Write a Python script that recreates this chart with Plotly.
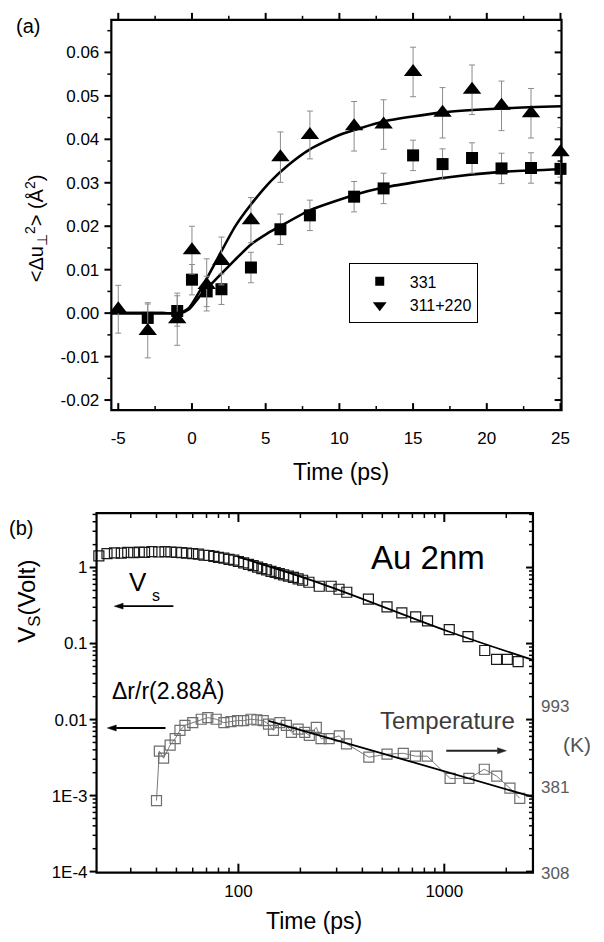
import math
import plotly.graph_objects as go

# ---------------- Panel (a) data ----------------
t331 = [-3, -1, 0, 1, 2, 4, 6, 8, 11, 13, 15, 17, 19, 21, 23, 25]
u331 = [-0.0011, 0.0005, 0.0077, 0.0050, 0.0055, 0.0105, 0.0193, 0.0225, 0.0268,
        0.0287, 0.0363, 0.0343, 0.0357, 0.0333, 0.0334, 0.0332]
e331 = [0.0035] * len(t331)

t311 = [-5, -3, -1, 0, 1, 2, 4, 6, 8, 11, 13, 15, 17, 19, 21, 23, 25]
u311 = [0.0009, -0.0041, -0.0014, 0.0145, 0.0065, 0.0120, 0.0214, 0.0359, 0.0410,
        0.0430, 0.0434, 0.0555, 0.0461, 0.0514, 0.0477, 0.0460, 0.0370]
e311 = [0.0055, 0.0062, 0.0060, 0.0055, 0.0060, 0.0055, 0.0052, 0.0058, 0.0055,
        0.0057, 0.0057, 0.0057, 0.0058, 0.0057, 0.0057, 0.0057, 0.0057]

fit331_t = [-5.47, -2, -0.8, -0.2, 0.7, 1.8, 2.9, 4.0, 5.1, 6, 8, 11, 13, 17, 21, 25.07]
fit331_u = [0, 0, 0, 0.0009, 0.0046, 0.0084, 0.0122, 0.0158, 0.0183, 0.0200, 0.0237,
            0.0272, 0.0289, 0.0311, 0.0325, 0.0331]
fit311_t = [-5.47, -2, -0.8, -0.2, 0.7, 1.8, 2.9, 4.0, 5.35, 6.5, 8, 10, 13, 17, 21, 25.07]
fit311_u = [0, 0, 0, 0.0012, 0.0061, 0.0130, 0.0198, 0.0250, 0.0304, 0.0340, 0.0377,
            0.0410, 0.0441, 0.0462, 0.0471, 0.0476]

a_xticks = [-5, 0, 5, 10, 15, 20, 25]
a_xminor = [-2.5, 2.5, 7.5, 12.5, 17.5, 22.5]
a_yticks = [-0.02, -0.01, 0.0, 0.01, 0.02, 0.03, 0.04, 0.05, 0.06]
a_yminor = [-0.015, -0.005, 0.005, 0.015, 0.025, 0.035, 0.045, 0.055, 0.065]

# ---------------- Panel (b) data ----------------
vs_t = [21, 23, 25, 27, 29, 31, 33, 35, 38, 41, 44, 47, 50, 53, 56, 60, 64, 68, 72, 76,
        80, 85, 90, 95, 100, 106, 112, 118, 124, 130, 137, 144, 151, 158, 166, 175, 185,
        195, 205, 220, 247, 282, 308, 336, 428, 527, 622, 726, 829, 1057, 1303, 1572,
        1794, 2024, 2284]
vs_v = [1.42, 1.52, 1.56, 1.55, 1.58, 1.57, 1.60, 1.58, 1.62, 1.60, 1.62, 1.60, 1.58,
        1.57, 1.55, 1.52, 1.50, 1.45, 1.44, 1.40, 1.36, 1.33, 1.28, 1.25, 1.20, 1.15,
        1.10, 1.06, 1.01, 0.97, 0.93, 0.89, 0.86, 0.83, 0.80, 0.77, 0.74, 0.71, 0.68,
        0.64, 0.567, 0.567, 0.518, 0.473, 0.384, 0.303, 0.253, 0.224, 0.199, 0.152,
        0.123, 0.081, 0.062, 0.062, 0.058]
vs_fit_t = [99, 250, 1057, 2690]
vs_fit_v = [1.39, 0.62, 0.143, 0.061]

dr_t = [40, 41.3, 43.3, 46.6, 49.3, 52, 55, 60, 66, 71, 78, 85, 92, 99, 106, 115, 123,
        132, 140, 148, 159, 171, 181, 195, 210, 221, 239, 252, 276, 309, 335, 430, 527,
        632, 724, 826, 1067, 1316, 1564, 1798, 2083, 2326]
dr_v = [8.6e-4, 3.84e-3, 3.1e-3, 4.6e-3, 5.6e-3, 7.2e-3, 8.4e-3, 9.1e-3, 1.01e-2,
        1.06e-2, 1.01e-2, 9.1e-3, 9.4e-3, 9.7e-3, 9.7e-3, 1.01e-2, 9.9e-3, 9.7e-3,
        8.7e-3, 7.2e-3, 9.1e-3, 8.4e-3, 6.8e-3, 7.5e-3, 6.8e-3, 6.2e-3, 7.9e-3, 5.6e-3,
        5.6e-3, 6.1e-3, 4.8e-3, 3.2e-3, 3.5e-3, 3.6e-3, 3.3e-3, 3.3e-3, 1.68e-3,
        1.68e-3, 2.22e-3, 1.8e-3, 1.25e-3, 9.2e-4]
dr_fit_t = [140, 630, 2690]
dr_fit_v = [9.6e-3, 3.0e-3, 9.6e-4]

b_yticks = [1, 0.1, 0.01, 0.001, 0.0001]
b_yticktext = ["1", "0.1", "0.01", "1E-3", "1E-4"]
b_xticks = [100, 1000]
temp_labels = ["993", "381", "308"]

FONT = "Liberation Sans, Arial, sans-serif"
W, H = 604, 942


def px(x):
    return x / W


def py(y):
    return 1 - y / H


# plot-area geometry (pixels)
A_L, A_R, A_T, A_B = 112, 569, 20, 414
B_L, B_R, B_T, B_B = 97, 540, 518, 881

xa_dom = [px(A_L), px(A_R)]
ya_dom = [py(A_B), py(A_T)]
xa_range = [-5.47, 25.07]
ya_range = [-0.0223, 0.0675]

xb_dom = [px(B_L), px(B_R)]
yb_dom = [py(B_B), py(B_T)]
xb_range = [1.311, 3.4306]
yb_range = [-4.013, 0.7166]

b_xminor = [m * 10 ** e for e in (1, 2, 3) for m in range(2, 10) if 20 < m * 10 ** e < 2690]
b_yminor = [m * 10.0 ** e for e in (-4, -3, -2, -1, 0) for m in range(2, 10) if m * 10.0 ** e < 5.2]

fig = go.Figure()

# ---- panel (a) traces ----
for ft, fu in ((fit331_t, fit331_u), (fit311_t, fit311_u)):
    fig.add_trace(go.Scatter(x=ft, y=fu, mode="lines",
                             line=dict(color="black", width=2.6, shape="spline", smoothing=0.5),
                             xaxis="x", yaxis="y", showlegend=False, hoverinfo="skip", cliponaxis=False))
fig.add_trace(go.Scatter(x=t331, y=u331, mode="markers", xaxis="x", yaxis="y", cliponaxis=False,
                         marker=dict(symbol="square", size=12, color="black"),
                         error_y=dict(type="data", array=e331, color="#8c8c8c", thickness=1, width=3),
                         showlegend=False))
fig.add_trace(go.Scatter(x=t311, y=u311, mode="markers", xaxis="x", yaxis="y", cliponaxis=False,
                         marker=dict(symbol="triangle-up", size=16, color="black"),
                         error_y=dict(type="data", array=e311, color="#8c8c8c", thickness=1, width=3),
                         showlegend=False))
# legend entries
fig.add_trace(go.Scatter(x=[None], y=[None], mode="markers", name="331", xaxis="x", yaxis="y",
                         marker=dict(symbol="square", size=9, color="black")))
fig.add_trace(go.Scatter(x=[None], y=[None], mode="markers", name="311+220", xaxis="x", yaxis="y",
                         marker=dict(symbol="triangle-down", size=12, color="black")))

# ---- panel (b) traces ----
fig.add_trace(go.Scatter(x=vs_t, y=vs_v, mode="markers", xaxis="x2", yaxis="y2", cliponaxis=False,
                         marker=dict(symbol="square-open", size=10, color="#1a1a1a", line=dict(width=1.2)),
                         showlegend=False))
fig.add_trace(go.Scatter(x=dr_t, y=dr_v, mode="lines+markers", xaxis="x2", yaxis="y2", cliponaxis=False,
                         line=dict(color="#7a7a7a", width=1),
                         marker=dict(symbol="square-open", size=10, color="#6e6e6e", line=dict(width=1.2)),
                         showlegend=False))
for ft, fv in ((vs_fit_t, vs_fit_v), (dr_fit_t, dr_fit_v)):
    fig.add_trace(go.Scatter(x=ft, y=fv, mode="lines", xaxis="x2", yaxis="y2",
                             line=dict(color="black", width=1.8, shape="spline"),
                             showlegend=False, hoverinfo="skip"))

axis_common = dict(showline=False, showgrid=False, zeroline=False, ticks="",
                   tickfont=dict(family=FONT, size=17, color="black"))

fig.update_layout(
    width=W, height=H, margin=dict(l=0, r=0, t=0, b=0),
    paper_bgcolor="white", plot_bgcolor="white",
    font=dict(family=FONT, color="black"),
    xaxis=dict(domain=xa_dom, anchor="y", range=xa_range, tickmode="array", tickvals=a_xticks,
               ticktext=[str(v) for v in a_xticks], ticklabelstandoff=16, **axis_common),
    yaxis=dict(domain=ya_dom, anchor="x", range=ya_range, tickmode="array", tickvals=a_yticks,
               ticktext=[f"{v:.2f}" for v in a_yticks], ticklabelstandoff=11, **axis_common),
    xaxis2=dict(domain=xb_dom, anchor="y2", type="log", range=xb_range, tickmode="array", tickvals=b_xticks,
                ticktext=[str(v) for v in b_xticks], ticklabelstandoff=6, **axis_common),
    yaxis2=dict(domain=yb_dom, anchor="x2", type="log", range=yb_range, tickmode="array", tickvals=b_yticks,
                ticktext=b_yticktext, ticklabelstandoff=8, **axis_common),
    legend=dict(x=px(353), y=py(266), xanchor="left", yanchor="top", bgcolor="white",
                bordercolor="black", borderwidth=1, itemwidth=50,
                font=dict(family=FONT, size=16, color="black"), tracegroupgap=0),
)

ann = []
shapes = []


def frac(v, rng, log=False):
    val = math.log10(v) if log else v
    return (val - rng[0]) / (rng[1] - rng[0])


def xticks(xref, yref, vals, rng, log, h_px, length, width, side, direction):
    base = 0 if side == "bottom" else 1
    for v in vals:
        f = frac(v, rng, log)
        shapes.append(dict(type="line", xref=f"{xref} domain", yref=f"{yref} domain", x0=f, x1=f,
                           y0=base, y1=base + direction * length / h_px,
                           line=dict(color="black", width=width), layer="above"))


def yticks(xref, yref, vals, rng, log, w_px, length, width, side, direction):
    base = 0 if side == "left" else 1
    for v in vals:
        f = frac(v, rng, log)
        shapes.append(dict(type="line", xref=f"{xref} domain", yref=f"{yref} domain", y0=f, y1=f,
                           x0=base, x1=base + direction * length / w_px,
                           line=dict(color="black", width=width), layer="above"))


aw, ah = A_R - A_L, A_B - A_T
bw, bh = B_R - B_L, B_B - B_T

# panel (a): bottom ticks point in (up), top ticks point out (up), left out, right in
xticks("x", "y", a_xticks, xa_range, False, ah, 7, 2, "bottom", +1)
xticks("x", "y", a_xminor, xa_range, False, ah, 4, 1.5, "bottom", +1)
xticks("x", "y", a_xticks, xa_range, False, ah, 7, 2, "top", +1)
xticks("x", "y", a_xminor, xa_range, False, ah, 4, 1.5, "top", +1)
yticks("x", "y", a_yticks, ya_range, False, aw, 7, 2, "left", -1)
yticks("x", "y", a_yminor, ya_range, False, aw, 4, 1.5, "left", -1)
yticks("x", "y", a_yticks, ya_range, False, aw, 7, 2, "right", -1)
yticks("x", "y", a_yminor, ya_range, False, aw, 4, 1.5, "right", -1)

# panel (b): bottom in, top in, left out, right in
xticks("x2", "y2", b_xticks, xb_range, True, bh, 9, 2, "bottom", +1)
xticks("x2", "y2", b_xminor, xb_range, True, bh, 5, 1.5, "bottom", +1)
xticks("x2", "y2", b_xticks, xb_range, True, bh, 9, 2, "top", -1)
xticks("x2", "y2", b_xminor, xb_range, True, bh, 5, 1.5, "top", -1)
yticks("x2", "y2", b_yticks, yb_range, True, bw, 7, 2, "left", -1)
yticks("x2", "y2", b_yminor, yb_range, True, bw, 4, 1.5, "left", -1)
yticks("x2", "y2", b_yticks, yb_range, True, bw, 7, 2, "right", -1)
yticks("x2", "y2", b_yminor, yb_range, True, bw, 4, 1.5, "right", -1)

# plot frames
for xr, yr in (("x", "y"), ("x2", "y2")):
    shapes.append(dict(type="rect", xref=f"{xr} domain", yref=f"{yr} domain", x0=0, x1=1, y0=0, y1=1,
                       line=dict(color="black", width=2.2), fillcolor="rgba(0,0,0,0)", layer="above"))


def text(x, y, s, size, color="black", angle=0, xanchor="center"):
    ann.append(dict(x=px(x), y=py(y), xref="paper", yref="paper", text=s, showarrow=False,
                    font=dict(family=FONT, size=size, color=color), textangle=angle,
                    xanchor=xanchor, yanchor="middle"))


def arrow(x_tail, x_head, y, color="black"):
    d = 1 if x_head > x_tail else -1
    base = x_head - d * 9
    shapes.append(dict(type="line", xref="paper", yref="paper", x0=px(x_tail), x1=px(base),
                       y0=py(y), y1=py(y), line=dict(color=color, width=1.8)))
    shapes.append(dict(type="path", xref="paper", yref="paper",
                       path=f"M {px(x_head)} {py(y)} L {px(base)} {py(y - 3)} L {px(base)} {py(y + 3)} Z",
                       fillcolor=color, line=dict(color=color, width=0.5)))


text(27, 26, "(a)", 20)
text(36, 230, "&lt;Δu<sub>⊥</sub><sup>2</sup>&gt; (Å<sup>2</sup>)", 20, angle=-90)
text(345, 477, "Time (ps)", 23)

text(20, 533, "(b)", 20)
text(28, 607, "V<sub>S</sub>(Volt)", 24, angle=-90)
text(433, 563, "Au 2nm", 33)
text(139, 588, "V", 26)
text(157, 601, "s", 16)
arrow(175, 115, 612)
text(170, 697, "Δr/r(2.88Å)", 23)
arrow(167, 108, 735)
text(453, 727, "Temperature", 24, color="#3c3c3c")
arrow(452, 513, 758, color="#222222")
text(585, 752, "(K)", 21, color="#555555")
for lab, yy in zip(temp_labels, [713, 795, 882]):
    text(546, yy, lab, 17, color="#5a5a5a", xanchor="left")
text(318, 930, "Time (ps)", 23)

fig.update_layout(annotations=ann, shapes=shapes)

fig.write_html("out.html", config={"displayModeBar": False},
               post_script="document.body.style.margin='0px';document.body.style.overflow='hidden';")
